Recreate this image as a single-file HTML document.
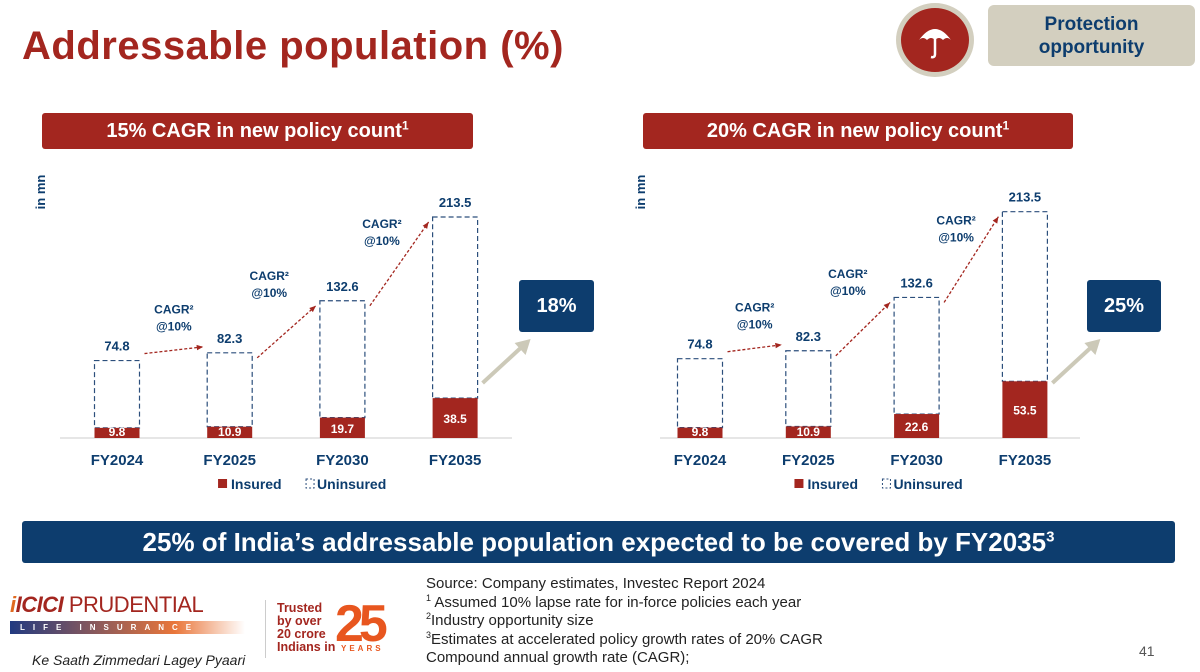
<!DOCTYPE html>
<html><head><meta charset="utf-8">
<style>
body{margin:0;width:1200px;height:672px;background:#fff;overflow:hidden;font-family:"Liberation Sans",sans-serif;position:relative}
.abs{position:absolute}
sup{line-height:0}
</style></head>
<body>
<div class="abs" style="left:22px;top:24px;font-size:40px;font-weight:bold;color:#a3261f;letter-spacing:0.5px">Addressable population (%)</div>
<div class="abs" style="left:896px;top:3px;width:78px;height:74px;border-radius:50%;background:#a3261f;box-sizing:border-box;border:5px solid #d3cfbf">
<svg width="68" height="64" viewBox="0 0 68 64"><path d="M18 32 Q34 10 50 32 Q46 28 42 32 Q38 28 34 32 Q30 28 26 32 Q22 28 18 32Z" fill="#fff"/><path d="M34 30 V46 Q34 50 30 49" stroke="#fff" stroke-width="2.5" fill="none"/></svg></div>
<div class="abs" style="left:988px;top:5px;width:207px;height:61px;background:#d3cfbf;border-radius:6px;color:#0d3d6e;font-weight:bold;font-size:19px;text-align:center;line-height:23px;padding-top:8px;box-sizing:border-box">Protection<br>opportunity</div>

<div class="abs" style="left:42px;top:113px;width:431px;height:36px;background:#a3261f;color:#fff;font-weight:bold;font-size:20px;text-align:center;line-height:36px;border-radius:3px">15% CAGR in new policy count<sup style="font-size:12px">1</sup></div>
<div class="abs" style="left:643px;top:113px;width:430px;height:36px;background:#a3261f;color:#fff;font-weight:bold;font-size:20px;text-align:center;line-height:36px;border-radius:3px">20% CAGR in new policy count<sup style="font-size:12px">1</sup></div>

<svg id="chart" class="abs" style="left:0;top:0" width="1200" height="520"></svg>

<div class="abs" style="left:519px;top:280px;width:75px;height:52px;background:#0d3d6e;color:#fff;font-weight:bold;font-size:20px;text-align:center;line-height:52px;border-radius:3px">18%</div>
<div class="abs" style="left:1087px;top:280px;width:74px;height:52px;background:#0d3d6e;color:#fff;font-weight:bold;font-size:20px;text-align:center;line-height:52px;border-radius:3px">25%</div>

<div class="abs" style="left:22px;top:521px;width:1153px;height:42px;background:#0d3d6e;color:#fff;font-weight:bold;font-size:26px;text-align:center;line-height:42px;border-radius:3px">25% of India’s addressable population expected to be covered by FY2035<sup style="font-size:15px">3</sup></div>

<div class="abs" style="left:10px;top:592px;width:250px">
<div style="font-size:22px;font-weight:bold;font-style:italic;color:#a3261f;letter-spacing:-0.5px"><span style="color:#e06a1f">i</span>ICICI <span style="font-style:normal;font-weight:normal">PRUDENTIAL</span></div>
<div style="margin-top:3px;height:13px;width:235px;background:linear-gradient(90deg,#223a80,#e9763a 70%,#fff);color:#fff;font-size:8px;letter-spacing:8px;padding-left:10px;line-height:13px;font-weight:bold;white-space:nowrap;overflow:hidden;box-sizing:border-box">LIFE INSURANCE</div>
<div style="margin-top:18px;font-size:14px;font-style:italic;color:#222;padding-left:22px">Ke Saath Zimmedari Lagey Pyaari</div>
</div>
<div class="abs" style="left:265px;top:600px;width:1px;height:58px;background:#ccc"></div>
<div class="abs" style="left:277px;top:602px;font-size:12.5px;font-weight:bold;color:#a3261f;line-height:13px">Trusted<br>by over<br>20 crore<br>Indians in</div>
<div class="abs" style="left:335px;top:594px;font-size:52px;font-weight:bold;color:#e8561f;letter-spacing:-5px">25<div style="font-size:8px;letter-spacing:3px;color:#e8561f;margin-top:-10px;padding-left:6px">YEARS</div></div>

<div class="abs" style="left:426px;top:575px;font-size:15px;color:#222;line-height:18.5px">Source: Company estimates, Investec Report 2024<br><sup style="font-size:9px">1</sup> Assumed 10% lapse rate for in-force policies each year<br><sup style="font-size:9px">2</sup>Industry opportunity size<br><sup style="font-size:9px">3</sup>Estimates at accelerated policy growth rates of 20% CAGR<br>Compound annual growth rate (CAGR);</div>
<div class="abs" style="left:1139px;top:643px;font-size:14px;color:#555">41</div>

<script>
const categories=["FY2024","FY2025","FY2030","FY2035"];
const totalLeft=[74.8,82.3,132.6,213.5];
const insuredLeft=[9.8,10.9,19.7,38.5];
const totalRight=[74.8,82.3,132.6,213.5];
const insuredRight=[9.8,10.9,22.6,53.5];
const cagrLabels=["CAGR²","@10%"];
const svg=document.getElementById('chart');
const NS="http://www.w3.org/2000/svg";
function mk(tag,attrs,txt){const e=document.createElementNS(NS,tag);for(const k in attrs)e.setAttribute(k,attrs[k]);if(txt!==undefined)e.textContent=txt;svg.appendChild(e);return e;}
function drawChart(prefix,x0,step,scale,totals,insured,axisLeft,axisRight){
  const base=438,bw=45;
  const X=i=>x0+i*step, Y=v=>base-v*scale;
  const ax=mk('line',{x1:axisLeft,x2:axisRight,y1:base,y2:base,stroke:'#ddd','stroke-width':1.5});
  
  const yt=mk('text',{x:0,y:0,transform:`translate(${axisLeft-15},${192}) rotate(-90)`,'font-size':13,'font-weight':'bold',fill:'#0d3d6e','text-anchor':'middle'},'in mn');
  
  const tops=[];
  categories.forEach((c,i)=>{
    const cx=X(i);
    const u=mk('rect',{x:cx-bw/2,y:Y(totals[i]),width:bw,height:(totals[i]-insured[i])*scale,fill:'#fff',stroke:'#2c4f7c','stroke-width':1.2,'stroke-dasharray':'5,3'});
    
    const r=mk('rect',{x:cx-bw/2,y:Y(insured[i]),width:bw,height:insured[i]*scale,fill:'#a3261f'});
    
    const il=mk('text',{x:cx,y:Math.min(Y(insured[i]/2)+5,base-2),'font-size':12,'font-weight':'bold',fill:'#fff','text-anchor':'middle'},insured[i].toFixed(1));
    
    const tl=mk('text',{x:cx,y:Y(totals[i])-10,'font-size':13,'font-weight':'bold',fill:'#0d3d6e','text-anchor':'middle'},totals[i].toFixed(1));
    
    const xl=mk('text',{x:cx,y:465,'font-size':15,'font-weight':'bold',fill:'#0d3d6e','text-anchor':'middle'},c);
    
    tops.push([cx,Y(totals[i])]);
  });
  for(let i=0;i<3;i++){
    const x1=tops[i][0]+bw/2+5,y1=tops[i][1]+(i==0?-7:5),x2=tops[i+1][0]-bw/2-4,y2=tops[i+1][1]-(i==0?6:-5);
    const l=mk('line',{x1:x1,y1:y1,x2:x2,y2:y2,stroke:'#a3261f','stroke-width':1.3,'stroke-dasharray':'3,2'});
    
    const ang=Math.atan2(y2-y1,x2-x1),s=7;
    mk('polygon',{points:`${x2},${y2} ${x2-s*Math.cos(ang-0.4)},${y2-s*Math.sin(ang-0.4)} ${x2-s*Math.cos(ang+0.4)},${y2-s*Math.sin(ang+0.4)}`,fill:'#a3261f'});
    const mx=i==0?(x1+x2)/2:x1+12, my=i==0?y1-40:y1-78;
    mk('text',{x:mx,y:my,'font-size':12,'font-weight':'bold',fill:'#0d3d6e','text-anchor':'middle'},cagrLabels[0]);
    mk('text',{x:mx,y:my+17,'font-size':12,'font-weight':'bold',fill:'#0d3d6e','text-anchor':'middle'},cagrLabels[1]);
  }
  const gx=X(3)+bw/2+5;
  mk('line',{x1:gx,y1:383,x2:gx+38,y2:348,stroke:'#ccc9b8','stroke-width':4});
  mk('polygon',{points:`${gx+48},${339} ${gx+32},${343} ${gx+43},${355}`,fill:'#ccc9b8'});
  const lx=X(0)+(X(3)-X(0))/2-68;
  const lg=mk('rect',{x:lx,y:479,width:9,height:9,fill:'#a3261f'});
  
  mk('text',{x:lx+13,y:489,'font-size':14,'font-weight':'bold',fill:'#0d3d6e'},'Insured');
  const lu=mk('rect',{x:lx+88,y:479,width:8,height:9,fill:'none',stroke:'#2c4f7c','stroke-dasharray':'2,2'});
  
  mk('text',{x:lx+99,y:489,'font-size':14,'font-weight':'bold',fill:'#0d3d6e'},'Uninsured');
}
drawChart('left',117,112.7,1.035,totalLeft,insuredLeft,60,512);
drawChart('right',700,108.3,1.06,totalRight,insuredRight,660,1080);
</script>
</body></html>
